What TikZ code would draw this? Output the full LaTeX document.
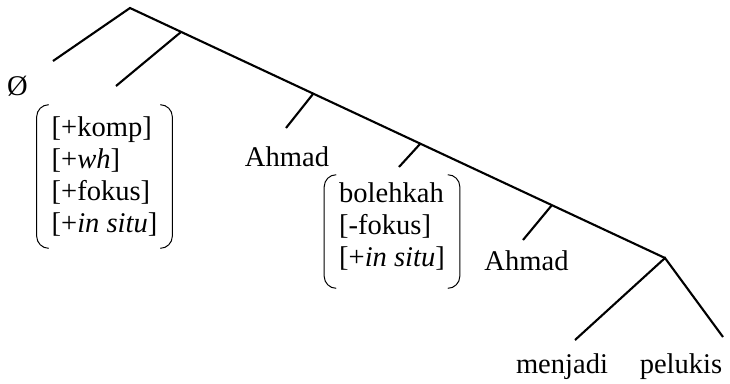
\documentclass[tikz,border=0pt]{standalone}
\usepackage{fontspec}
\setmainfont{Liberation Serif}
\usepackage{tikz}

\tikzset{
  rama/.style={line width=1.5pt},
  palabra/.style={anchor=base, inner sep=0pt},
  rasgos/.style={align=left, inner sep=0pt, minimum width=3.375cm},
  parentesis/.style={line width=0.7pt, rounded corners=0.3cm},
}
\newcommand{\corchetes}[2][0cm]{%
  \draw[parentesis] ([xshift=0.3cm,yshift=#1]#2.north west) -- ([yshift=#1]#2.north west)
    -- ([yshift=#1]#2.south west) -- ([xshift=0.3cm,yshift=#1]#2.south west);
  \draw[parentesis] ([xshift=-0.3cm,yshift=#1]#2.north east) -- ([yshift=#1]#2.north east)
    -- ([yshift=#1]#2.south east) -- ([xshift=-0.3cm,yshift=#1]#2.south east);}

\begin{document}
\begin{tikzpicture}[x=0.025cm,y=-0.025cm,font=\fontsize{20.3pt}{22.8pt}\selectfont]
				\useasboundingbox (0,0) rectangle (730,383);
				% Nudos
				\coordinate (sp) at (130,8);
				\coordinate (n1) at (181,32);
				\coordinate (n2) at (313,94);
				\coordinate (n3) at (420,144);
				\coordinate (n4) at (552,205);
				\coordinate (n5) at (665,258);
				% Extremos de las ramas
				\coordinate (h0) at (53,61);
				\coordinate (h1) at (116,86);
				\coordinate (h2) at (286,128);
				\coordinate (h3) at (399,167);
				\coordinate (h4) at (523,240);
				\coordinate (h5) at (575,340);
				\coordinate (h6) at (723,337);

				% Ramas
				\draw[rama] (h0) -- (sp) -- (n5);
				\draw[rama] (n1) -- (h1);
				\draw[rama] (n2) -- (h2);
				\draw[rama] (n3) -- (h3);
				\draw[rama] (n4) -- (h4);
				\draw[rama] (h5) -- (n5) -- (h6);

				% Etiquetas
				\node[palabra] (nulo) at (17.5,95) {Ø};
				\node[rasgos, minimum height=3.575cm] (comp) at (104.5,176.5)
					{[+komp]\\{}[+\textit{wh}]\\{}[+fokus]\\{}[+\textit{in situ}]};
				\corchetes{comp}
				\node[palabra] (ahmad1) at (287,166) {Ahmad};
				\node[rasgos, minimum height=2.825cm] (bol) at (392,226.5)
					{bolehkah\\{}[-fokus]\\{}[+\textit{in situ}]};
				\corchetes[-0.125cm]{bol}
				\node[palabra] (ahmad2) at (526.5,270) {Ahmad};
				\node[palabra] (menjadi) at (562,373) {menjadi};
				\node[palabra] (pelukis) at (681,373) {pelukis};

			\end{tikzpicture}
\end{document}
